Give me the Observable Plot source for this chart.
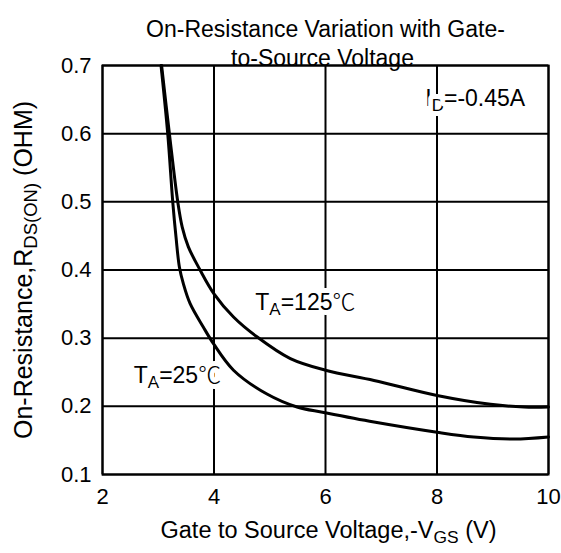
<!DOCTYPE html>
<html><head><meta charset="utf-8">
<script src="https://cdn.jsdelivr.net/npm/d3@7"></script>
<script src="https://cdn.jsdelivr.net/npm/@observablehq/plot@0.6"></script>
<style>body{margin:0;background:#fff;}</style>
</head><body><div id="chart"></div>
<script>
// Data
const vgs25  = [3.05, 3.17, 3.26, 3.32, 3.38, 3.45, 3.57, 3.81, 3.99, 4.35, 4.95, 5.49, 5.97, 6.87, 8.0, 8.66, 9.38, 10];
const rds25  = [0.70, 0.60, 0.50, 0.447, 0.404, 0.38, 0.351, 0.316, 0.292, 0.253, 0.218, 0.199, 0.191, 0.177, 0.162, 0.155, 0.152, 0.155];
const vgs125 = [3.06, 3.20, 3.35, 3.43, 3.54, 3.75, 4.0, 4.35, 4.77, 5.37, 6.0, 6.87, 8.0, 8.96, 9.56, 10];
const rds125 = [0.70, 0.60, 0.50, 0.463, 0.434, 0.40, 0.365, 0.331, 0.302, 0.27, 0.253, 0.238, 0.216, 0.203, 0.199, 0.199];
const xTicks = [2, 4, 6, 8, 10];
const yTicks = [0.1, 0.2, 0.3, 0.4, 0.5, 0.6, 0.7];
const titleLines = ["On-Resistance Variation with Gate-", "to-Source Voltage"];
const xLabelParts = [["Gate to Source Voltage,-V", false], ["GS", true], [" (V)", false]];
const yLabelParts = [["On-Resistance,R", false], ["DS(ON)", true], [" (OHM)", false]];
const annoText = [
  [["T", false], ["A", true], ["=125", false], ["℃", false]],
  [["T", false], ["A", true], ["=25", false], ["℃", false]],
  [["I", false], ["D", true], ["=-0.45A", false]]
];
const annoX = [4.74, 2.56, 7.79];
const annoY = [0.352, 0.245, 0.652];

const join = parts => parts.map(p => p[0]).join("");
const rich = new Map([xLabelParts, yLabelParts, ...annoText].map(p => [join(p), p]));

const series25 = vgs25.map((v, i) => ({v, r: rds25[i]}));
const series125 = vgs125.map((v, i) => ({v, r: rds125[i]}));
const annos = annoText.map((t, i) => ({t: join(t), x: annoX[i], y: annoY[i]}));

const plot = Plot.plot({
  width: 561,
  height: 553,
  marginLeft: 102,
  marginRight: 13,
  marginTop: 65,
  marginBottom: 79,
  style: {fontFamily: "'Liberation Sans', Arial, sans-serif", fontSize: "22px", color: "black", background: "white"},
  x: {domain: [2, 10], ticks: xTicks, tickSize: 0, tickPadding: 14, label: null},
  y: {domain: [0.1, 0.7], ticks: yTicks, tickSize: 0, tickPadding: 11, label: null, tickFormat: d => d.toFixed(1)},
  marks: [
    Plot.gridX(xTicks, {stroke: "black", strokeOpacity: 1, strokeWidth: 2}),
    Plot.gridY(yTicks, {stroke: "black", strokeOpacity: 1, strokeWidth: 2}),
    Plot.frame({stroke: "black", strokeWidth: 2}),
    Plot.line(series125, {x: "v", y: "r", stroke: "black", strokeWidth: 3, curve: "catmull-rom"}),
    Plot.line(series25, {x: "v", y: "r", stroke: "black", strokeWidth: 3, curve: "catmull-rom"}),
    Plot.text(annos, {x: "x", y: "y", text: "t", textAnchor: "start", fontSize: 23, fill: "black", stroke: "white", strokeWidth: 10}),
    Plot.text([titleLines[0]], {frameAnchor: "top", dx: 0, dy: -45, fontSize: 23, fill: "black"}),
    Plot.text([titleLines[1]], {frameAnchor: "top", dx: -3, dy: -15.5, fontSize: 23, fill: "black"}),
    Plot.text([join(xLabelParts)], {frameAnchor: "bottom", textAnchor: "middle", dx: 3, dy: 63, fontSize: 23.5, fill: "black"}),
    Plot.text([join(yLabelParts)], {frameAnchor: "left", textAnchor: "middle", rotate: -90, dx: -79, dy: 0, fontSize: 25, fill: "black"})
  ]
});
document.getElementById("chart").appendChild(plot);

// Turn marked parts into subscripts; the degree sign uses a CJK font like the reference
d3.select(plot).selectAll("text").each(function() {
  const parts = rich.get(this.textContent);
  if (!parts) return;
  const fs = parseFloat(getComputedStyle(this).fontSize);
  const shift = fs * 0.22;
  const el = d3.select(this);
  el.text(null);
  let down = false;
  for (const [s, sub] of parts) {
    const ts = el.append("tspan").text(s);
    if (s === "℃") ts.attr("font-family", "'Noto Sans CJK SC', sans-serif").attr("font-weight", 300);
    if (sub) {
      ts.attr("font-size", fs * 0.74);
      if (!down) { ts.attr("dy", shift); down = true; }
    } else if (down) {
      ts.attr("dy", -shift); down = false;
    }
  }
});
</script>
</body></html>
